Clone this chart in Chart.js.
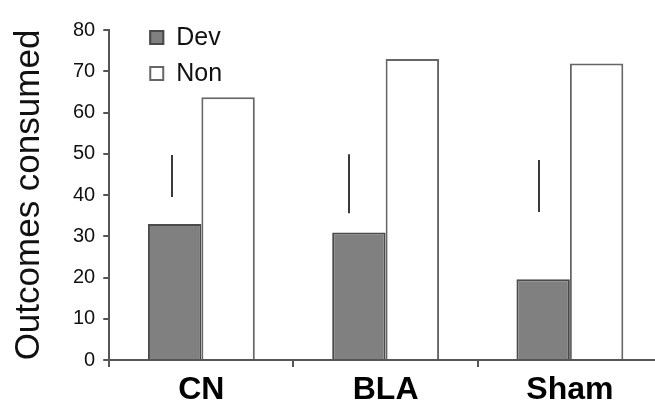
<!DOCTYPE html>
<html>
<head>
<meta charset="utf-8">
<script src="https://cdn.jsdelivr.net/npm/chart.js@4.4.1/dist/chart.umd.min.js"></script>
<style>
html, body { margin: 0; padding: 0; background: #fff; overflow: hidden; }
#wrap { width: 662px; height: 403px; position: relative; }
</style>
</head>
<body>
<div id="wrap"><canvas id="chart"></canvas></div>
<script>
const groups = ["CN", "BLA", "Sham"];
const devValues = [33.0, 30.9, 19.6];
const nonValues = [63.7, 73.0, 71.9];
// the stray error lines, as drawn in the figure (x in category units)
const errX = [-0.16, 0.80, 1.83];
const errLow = [39.5, 35.6, 35.9];
const errHigh = [49.7, 49.9, 48.5];
const yMin = 0, yMax = 80, yStep = 10;

const FONT = "'Liberation Sans', Arial, sans-serif";

let errorPlugin = {
    id: "errorLines",
    afterDatasetsDraw: function (chart) {
        let ctx = chart.ctx;
        let xs = chart.scales.x;
        let ys = chart.scales.y;
        ctx.save();
        ctx.strokeStyle = "#3a3a3a";
        ctx.lineWidth = 2;
        errX.forEach(function (x, i) {
            let px = Math.round(xs.getPixelForValue(x));
            ctx.beginPath();
            ctx.moveTo(px, ys.getPixelForValue(errLow[i]));
            ctx.lineTo(px, ys.getPixelForValue(errHigh[i]));
            ctx.stroke();
        });
        ctx.restore();
    }
};

let legendPlugin = {
    id: "boxLegend",
    afterDraw: function (chart) {
        let ctx = chart.ctx;
        let x0 = chart.chartArea.left + 40;
        let y0 = chart.chartArea.top;
        ctx.save();
        ctx.font = "25px " + FONT;
        ctx.textBaseline = "alphabetic";
        chart.data.datasets.forEach(function (ds, i) {
            let y = y0 + i * 36;
            ctx.fillStyle = ds.backgroundColor;
            ctx.fillRect(x0, y, 15, 15);
            ctx.strokeStyle = ds.legendBorder;
            ctx.lineWidth = 2;
            ctx.strokeRect(x0 + 1, y + 1, 13, 13);
            ctx.fillStyle = "#111";
            ctx.fillText(ds.label, x0 + 27, y + 15);
        });
        ctx.restore();
    }
};

let chart = new Chart(document.getElementById("chart"), {
    type: "bar",
    data: {
        labels: groups,
        datasets: [{
            label: "Dev",
            data: devValues,
            backgroundColor: "#808080",
            borderColor: "#4a4a4a",
            legendBorder: "#4a4a4a",
            borderWidth: 2,
            barPercentage: 1.0,
            categoryPercentage: 0.58
        }, {
            label: "Non",
            data: nonValues,
            backgroundColor: "#ffffff",
            borderColor: "#666666",
            legendBorder: "#666666",
            borderWidth: 2,
            barPercentage: 1.0,
            categoryPercentage: 0.58
        }]
    },
    options: {
        responsive: true,
        maintainAspectRatio: false,
        animation: false,
        layout: { padding: { left: 8, top: 30, right: 0, bottom: -10 } },
        plugins: {
            legend: { display: false },
            tooltip: { enabled: false }
        },
        scales: {
            x: {
                grid: {
                    offset: true,
                    drawOnChartArea: false,
                    drawTicks: true,
                    tickLength: 7,
                    color: "#555",
                    lineWidth: 2
                },
                border: { display: true, color: "#555", width: 2 },
                ticks: {
                    color: "#000",
                    padding: 7,
                    font: { family: FONT, size: 32, weight: "bold", lineHeight: 1.0 }
                }
            },
            y: {
                min: yMin,
                max: yMax,
                ticks: {
                    stepSize: yStep,
                    color: "#111",
                    padding: 8,
                    font: { family: FONT, size: 20 }
                },
                grid: {
                    drawOnChartArea: false,
                    drawTicks: true,
                    tickLength: 6,
                    color: "#555",
                    lineWidth: 2
                },
                border: { display: true, color: "#555", width: 2 },
                title: {
                    display: true,
                    text: "Outcomes consumed",
                    color: "#111",
                    padding: { top: 0, bottom: 15 },
                    font: { family: FONT, size: 35, lineHeight: 1.2 }
                }
            }
        }
    },
    plugins: [errorPlugin, legendPlugin]
});
</script>
</body>
</html>
